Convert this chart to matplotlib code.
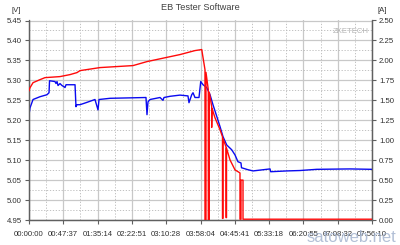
import matplotlib
matplotlib.use("Agg")
import matplotlib.pyplot as plt
import numpy as np

# ---------------------------------------------------------------
# data (time in minutes)
# ---------------------------------------------------------------
volt_t = [0, 1.4, 5.6, 15.3, 25.0, 27.8, 28.5, 36.1, 37.5, 38.9, 40.3, 43.0,
          45.8, 48.6, 50.0, 51.4, 63.9, 65.2, 66.6, 70.8, 79.1, 91.6, 95.8,
          97.2, 112.4, 162.4, 163.8, 165.2, 168.0, 181.9, 186.0, 187.4, 195.7,
          209.6, 220.7, 222.1, 225.9, 227.7, 230.4, 236.0, 238.4, 241.6, 246.7,
          251.3, 255.4, 260.6, 265.2, 269.3, 274.5, 281.4, 286.0, 290.1, 294.3,
          295.0, 304.0, 311.0, 334.6, 335.5, 358.2, 376.2, 399.4, 445.6, 476.2]
volt_v = [5.214, 5.231, 5.252, 5.259, 5.264, 5.269, 5.299, 5.297, 5.292, 5.297,
          5.287, 5.292, 5.287, 5.284, 5.282, 5.289, 5.289, 5.234, 5.239, 5.239,
          5.244, 5.252, 5.226, 5.252, 5.255, 5.257, 5.214, 5.246, 5.252, 5.257,
          5.250, 5.257, 5.260, 5.263, 5.261, 5.244, 5.264, 5.269, 5.257, 5.257,
          5.297, 5.289, 5.282, 5.264, 5.239, 5.210, 5.184, 5.159, 5.138, 5.126,
          5.113, 5.096, 5.093, 5.081, 5.076, 5.073, 5.078, 5.071, 5.073, 5.074,
          5.077, 5.078, 5.077]

amp_t = [0, 1.4, 5.6, 15.3, 22.2, 43.0, 56.9, 66.6, 70.8, 98.6, 144.4, 163.8,
         209.6, 230.4, 239.8, 241.6, 244.3, 244.3, 245.7, 245.7, 248.9, 248.9,
         250.3, 250.3, 253.6, 253.6, 254.0, 258.2, 265.2, 268.6, 268.6, 269.3,
         269.3, 273.5, 273.5, 274.2, 274.2, 279.0, 286.0, 292.9, 292.9, 294.3,
         294.3, 297.1, 297.1, 476.2]
amp_a = [1.621, 1.658, 1.721, 1.759, 1.784, 1.797, 1.822, 1.847, 1.872, 1.910,
         1.935, 1.985, 2.073, 2.123, 2.136, 2.035, 1.884, 0.0, 0.0, 1.85, 1.633,
         0.0, 0.0, 1.60, 1.423, 1.16, 1.40, 1.281, 1.131, 1.043, 0.02, 0.02,
         1.02, 0.917, 0.03, 0.03, 0.90, 0.754, 0.628, 0.59, 0.01, 0.01, 0.50,
         0.50, 0.01, 0.01]

tick_labels = ["00:00:00", "00:47:37", "01:35:14", "02:22:51", "03:10:28",
               "03:58:04", "04:45:41", "05:33:18", "06:20:55", "07:08:32",
               "07:56:10"]
t_end = 476.1667   # 07:56:10 in minutes

plt.rcParams['font.family'] = ['Liberation Sans Narrow', 'Liberation Sans', 'DejaVu Sans']

# ---------------------------------------------------------------
# figure
# ---------------------------------------------------------------
fig = plt.figure(figsize=(4.0, 2.45), dpi=100)
ax = fig.add_axes([29/400, 25/245, 343/400, 199.5/245])
ax2 = ax.twinx()

grid_c = "#c8c8c8"
spine_c = "#606060"
txt_c = "#303030"

xt = np.linspace(0, t_end, len(tick_labels))
ax.set_xlim(0, t_end)
ax.set_ylim(4.95, 5.45)
ax2.set_ylim(0, 2.5)

ax.set_xticks(xt)
ax.set_xticklabels(tick_labels)
ax.set_xticks((xt[:-1] + xt[1:]) / 2, minor=True)
ax.set_yticks(np.arange(4.95, 5.451, 0.05))
ax.set_yticklabels(["%.2f" % v for v in np.arange(4.95, 5.451, 0.05)])
ax.set_yticks(np.arange(4.975, 5.45, 0.05), minor=True)
ax2.set_yticks(np.arange(0, 2.51, 0.25))
ax2.set_yticklabels(["%.2f" % v for v in np.arange(0, 2.51, 0.25)])

ax.grid(True, which="major", color=grid_c, lw=0.9, ls="-")
ax.grid(True, which="minor", color="#b8b8b8", lw=0.6, ls=(0, (1.5, 2)))
ax.set_axisbelow(True)

ax.tick_params(axis="both", which="major", labelsize=5.6, colors=spine_c,
               labelcolor=txt_c, length=3, width=0.8, pad=2)
ax.tick_params(axis="both", which="minor", length=0)
ax2.tick_params(axis="y", labelsize=5.6, colors=spine_c, labelcolor=txt_c,
                length=3, width=0.8, pad=2)
ax.tick_params(axis="x", pad=5)

for a in (ax, ax2):
    a.spines["top"].set_visible(False)
    for s in ("left", "right", "bottom"):
        a.spines[s].set_color(spine_c)
        a.spines[s].set_linewidth(0.9)

ax.plot(volt_t, volt_v, color="#0a0af0", lw=1.0, zorder=3)
ax2.plot(amp_t, amp_a, color="#ff0a0a", lw=1.0, zorder=3)

fig.text(0.5, 1 - 8/245, "EB Tester Software", ha="center", va="center",
         fontsize=6.6, color="#404040", family="Liberation Sans")
fig.text(12/400, 1 - 10/245, "[V]", ha="left", va="center", fontsize=5.6, color=txt_c)
fig.text(377/400, 1 - 10/245, "[A]", ha="left", va="center", fontsize=5.6, color=txt_c)
ax.text(0.99, 0.945, "ZKETECH", transform=ax.transAxes, ha="right", va="center",
        fontsize=5.6, color="#b4b4b4")
fig.text(396/400, 1 - 237/245, "satoweb.net", ha="right", va="center",
         fontsize=12, color="#9fb0cc", alpha=0.8, family="Liberation Sans")

fig.savefig("out.png", dpi=100)
